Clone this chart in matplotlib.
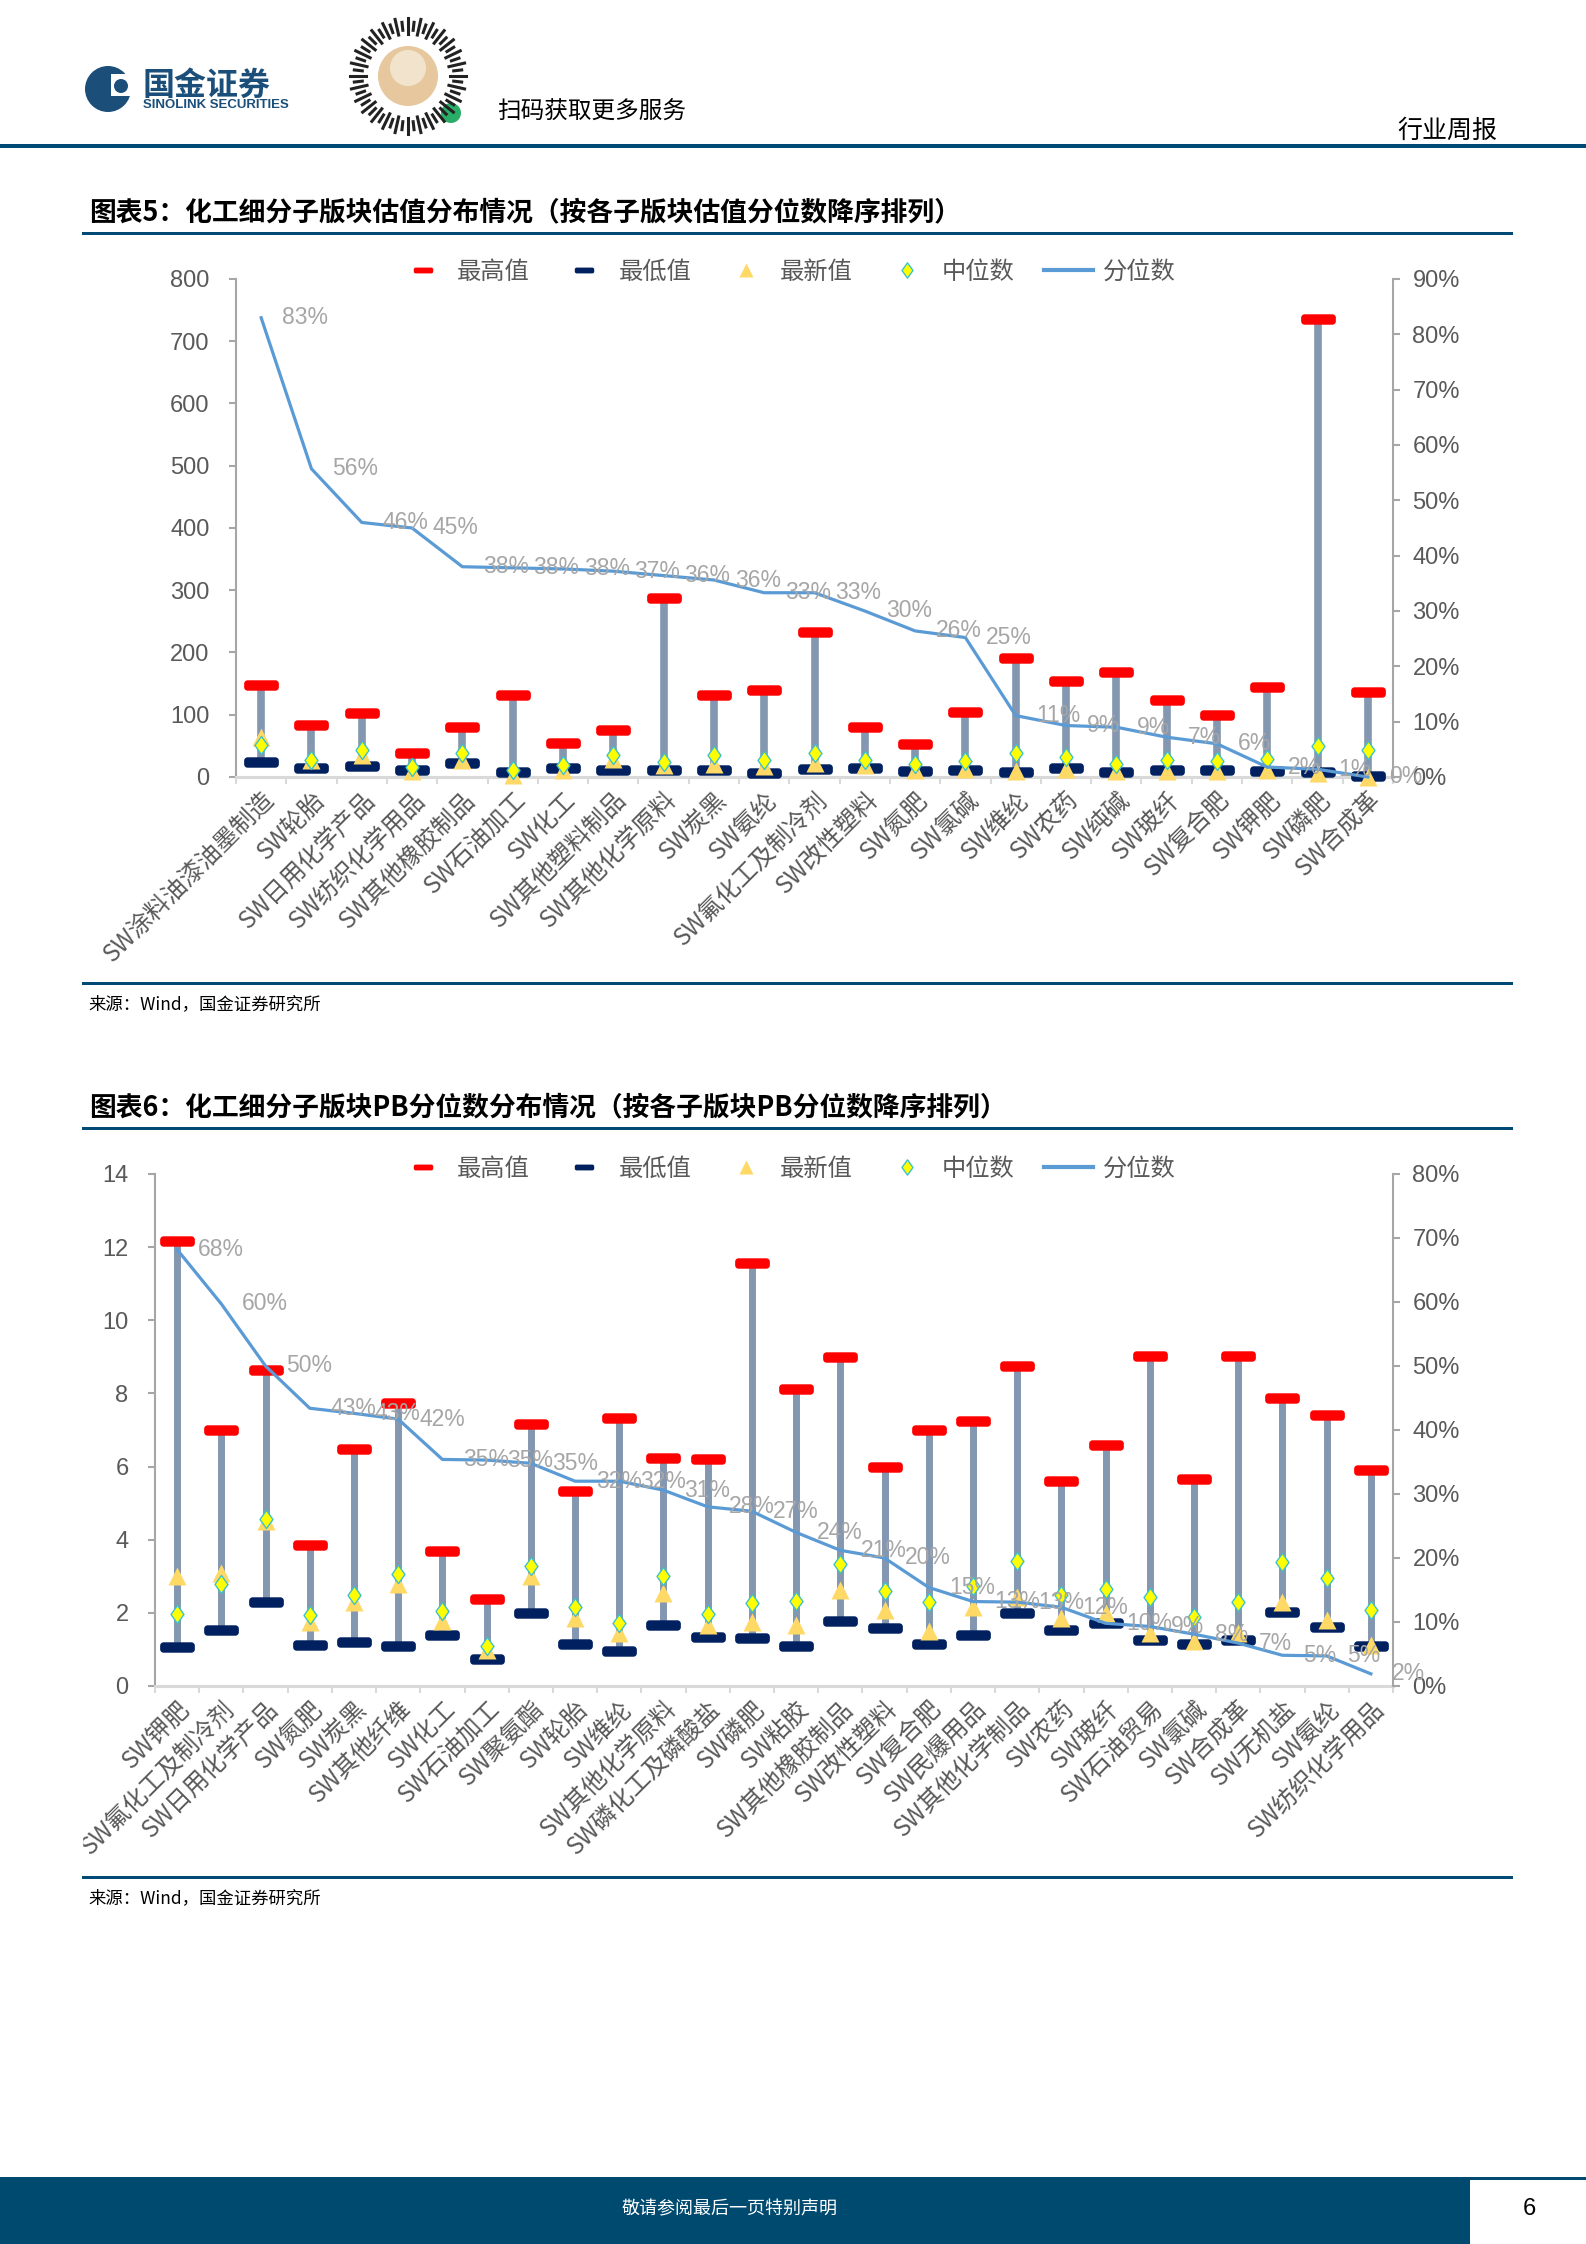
import numpy as np
import matplotlib
matplotlib.use('Agg')
import matplotlib.pyplot as plt
from matplotlib.path import Path
from matplotlib.lines import Line2D
from matplotlib import patches
from matplotlib.ticker import FuncFormatter

plt.rcParams['font.family'] = ['Liberation Sans', 'Noto Sans CJK SC', 'DejaVu Sans']

# ---------------- data ----------------
cats1 = ['SW涂料油漆油墨制造', 'SW轮胎', 'SW日用化学产品', 'SW纺织化学用品', 'SW其他橡胶制品',
         'SW石油加工', 'SW化工', 'SW其他塑料制品', 'SW其他化学原料', 'SW炭黑', 'SW氨纶',
         'SW氟化工及制冷剂', 'SW改性塑料', 'SW氮肥', 'SW氯碱', 'SW维纶', 'SW农药', 'SW纯碱',
         'SW玻纤', 'SW复合肥', 'SW钾肥', 'SW磷肥', 'SW合成革']
max1 = [147, 84, 103, 38, 80, 131, 54, 75, 287, 131, 140, 233, 80, 53, 104, 191, 155, 169, 124, 99, 145, 735, 137]
min1 = [24, 15, 18, 11, 22, 8, 14, 11, 11, 11, 6, 13, 14, 10, 12, 8, 14, 8, 12, 11, 10, 8, 1]
latest1 = [64, 27, 35, 9, 28, 4, 12, 29, 20, 21, 17, 22, 19, 11, 13, 9, 13, 9, 9, 9, 11, 6, 0]
median1 = [51, 27, 44, 16, 39, 12, 19, 35, 24, 36, 27, 39, 28, 21, 25, 39, 32, 21, 28, 25, 29, 49, 43]
pct1 = [0.83, 0.557, 0.46, 0.45, 0.38, 0.378, 0.376, 0.372, 0.364, 0.356, 0.333, 0.333, 0.30,
        0.264, 0.252, 0.111, 0.093, 0.09, 0.072, 0.06, 0.018, 0.014, 0.0]

cats2 = ['SW钾肥', 'SW氟化工及制冷剂', 'SW日用化学产品', 'SW氮肥', 'SW炭黑', 'SW其他纤维', 'SW化工',
         'SW石油加工', 'SW聚氨酯', 'SW轮胎', 'SW维纶', 'SW其他化学原料', 'SW磷化工及磷酸盐', 'SW磷肥',
         'SW粘胶', 'SW其他橡胶制品', 'SW改性塑料', 'SW复合肥', 'SW民爆用品', 'SW其他化学制品', 'SW农药',
         'SW玻纤', 'SW石油贸易', 'SW氯碱', 'SW合成革', 'SW无机盐', 'SW氨纶', 'SW纺织化学用品']
max2 = [12.17, 7.0, 8.64, 3.85, 6.49, 7.74, 3.68, 2.37, 7.17, 5.32, 7.32, 6.23, 6.2, 11.56,
        8.13, 9.0, 5.98, 7.0, 7.24, 8.75, 5.61, 6.59, 9.02, 5.66, 9.02, 7.87, 7.41, 5.90]
min2 = [1.07, 1.53, 2.31, 1.12, 1.19, 1.09, 1.40, 0.73, 2.0, 1.15, 0.95, 1.68, 1.34, 1.30,
        1.09, 1.79, 1.58, 1.15, 1.40, 2.0, 1.54, 1.71, 1.25, 1.14, 1.27, 2.02, 1.61, 1.09]
latest2 = [3.0, 3.1, 4.5, 1.76, 2.29, 2.78, 1.79, 0.98, 3.02, 1.85, 1.46, 2.54, 1.66, 1.76,
           1.66, 2.63, 2.08, 1.51, 2.15, 2.44, 1.85, 2.0, 1.46, 1.22, 1.46, 2.29, 1.80, 1.12]
median2 = [1.97, 2.78, 4.58, 1.93, 2.49, 3.05, 2.05, 1.10, 3.27, 2.15, 1.73, 3.0, 1.97, 2.26,
           2.32, 3.34, 2.6, 2.31, 2.73, 3.41, 2.49, 2.66, 2.42, 1.90, 2.31, 3.40, 2.95, 2.07]
pct2 = [0.682, 0.597, 0.50, 0.434, 0.426, 0.417, 0.354, 0.353, 0.348, 0.32, 0.32, 0.306, 0.28,
        0.273, 0.24, 0.212, 0.20, 0.154, 0.132, 0.131, 0.123, 0.098, 0.093, 0.081, 0.067,
        0.048, 0.047, 0.019]

legend_labels = ['最高值', '最低值', '最新值', '中位数', '分位数']
title1 = '图表5：化工细分子版块估值分布情况（按各子版块估值分位数降序排列）'
title2 = '图表6：化工细分子版块PB分位数分布情况（按各子版块PB分位数降序排列）'
source = '来源：Wind，国金证券研究所'

# ---------------- style ----------------
W, H = 1586, 2244
RED = '#FF0000'; NAVY = '#002060'; TRI = '#FFD966'; DIA = '#FFFF00'; DIA_E = '#3FC1C9'
LINE = '#5B9BD5'; STEM = '#8497B0'; DARK = '#004A75'; GRAY_T = '#595959'; LBL = '#A6A6A6'
NARROW = ['Liberation Sans Narrow', 'Liberation Sans', 'DejaVu Sans']
CJK = ['Noto Sans CJK SC', 'DejaVu Sans']


def fx(x):
    return x / W


def fy(y):
    return 1 - y / H


def cap_path(w=1.0, h=0.3, r=0.1, n=8):
    pts = []
    corners = [(w / 2 - r, h / 2 - r, 0), (-w / 2 + r, h / 2 - r, 90),
               (-w / 2 + r, -h / 2 + r, 180), (w / 2 - r, -h / 2 + r, 270)]
    for cx, cy, a0 in corners:
        for t in np.linspace(a0, a0 + 90, n):
            pts.append((cx + r * np.cos(np.radians(t)), cy + r * np.sin(np.radians(t))))
    pts.append(pts[0])
    codes = [Path.MOVETO] + [Path.LINETO] * (len(pts) - 2) + [Path.CLOSEPOLY]
    return Path(pts, codes)


CAP = cap_path()
DIAM = Path([(0, 1), (0.72, 0), (0, -1), (-0.72, 0), (0, 1)],
            [Path.MOVETO, Path.LINETO, Path.LINETO, Path.LINETO, Path.CLOSEPOLY])

fig = plt.figure(figsize=(W / 100, H / 100), dpi=100)
fig.patch.set_facecolor('white')


def draw_chart(left, right, top, bottom, cats, vmax, vmin, vlast, vmed, pct,
               ylim, ystep, plim, pstep, stem_w, legend_y):
    ax = fig.add_axes([fx(left), fy(bottom), fx(right) - fx(left), fy(top) - fy(bottom)])
    ax.set_facecolor('none')
    n = len(cats)
    x = np.arange(n)
    ax.vlines(x, vmin, vmax, color=STEM, lw=stem_w, zorder=2)
    ax.plot(x, vmax, ls='none', marker=CAP, ms=25, mfc=RED, mec='none', zorder=3, clip_on=False)
    ax.plot(x, vmin, ls='none', marker=CAP, ms=25, mfc=NAVY, mec='none', zorder=3, clip_on=False)
    ax.plot(x, vlast, ls='none', marker='^', ms=13, mfc=TRI, mec='none', zorder=4, clip_on=False)
    ax.plot(x, vmed, ls='none', marker=DIAM, ms=13, mfc=DIA, mec=DIA_E, mew=1.0, zorder=5, clip_on=False)
    ax.set_xlim(-0.5, n - 0.5)
    ax.set_ylim(0, ylim)
    ax.set_yticks(np.arange(0, ylim + ystep / 2, ystep))
    ax.yaxis.set_major_formatter(FuncFormatter(lambda v, p: f'{v:.0f}'))
    for s in ['top', 'right']:
        ax.spines[s].set_visible(False)
    ax.spines['left'].set_color('#A6A6A6')
    ax.spines['left'].set_linewidth(1.5)
    ax.spines['bottom'].set_color('#D9D9D9')
    ax.spines['bottom'].set_linewidth(2.2)
    ax.tick_params(axis='y', direction='out', length=5, width=1.5, color='#A6A6A6',
                   labelcolor=GRAY_T, labelsize=17, pad=14)
    ax.set_xticks(x)
    ax.set_xticklabels(cats, rotation=45, ha='right', va='top', rotation_mode='anchor',
                       fontsize=17.5, color=GRAY_T, family=CJK)
    ax.tick_params(axis='x', which='major', length=0, pad=7)
    ax.set_xticks(np.arange(-0.5, n, 1.0), minor=True)
    ax.tick_params(axis='x', which='minor', direction='out', length=5, width=1.5, color='#D9D9D9')

    ax2 = ax.twinx()
    ax2.set_facecolor('none')
    ax2.plot(x, pct, color=LINE, lw=2.3, zorder=6, clip_on=False)
    for xi, p in zip(x, pct):
        ax2.annotate(f'{p * 100:.0f}%', (xi, p), xytext=(15, 0), textcoords='offset points',
                     ha='left', va='center', fontsize=16.5, color=LBL, family=NARROW, zorder=7)
    ax2.set_ylim(0, plim)
    ax2.set_yticks(np.arange(0, plim + pstep / 2, pstep))
    ax2.yaxis.set_major_formatter(FuncFormatter(lambda v, p: f'{v * 100:.0f}%'))
    for s in ['top', 'left', 'bottom']:
        ax2.spines[s].set_visible(False)
    ax2.spines['right'].set_color('#A6A6A6')
    ax2.spines['right'].set_linewidth(1.5)
    ax2.tick_params(axis='y', direction='out', length=5, width=1.5, color='#A6A6A6',
                    labelcolor=GRAY_T, labelsize=17, pad=9)

    handles = [
        Line2D([], [], ls='none', marker=CAP, ms=14, mfc=RED, mec='none'),
        Line2D([], [], ls='none', marker=CAP, ms=14, mfc=NAVY, mec='none'),
        Line2D([], [], ls='none', marker='^', ms=10, mfc=TRI, mec='none'),
        Line2D([], [], ls='none', marker=DIAM, ms=11, mfc=DIA, mec=DIA_E, mew=1.0),
        Line2D([], [], color=LINE, lw=3),
    ]
    fig.legend(handles, legend_labels, loc='center', bbox_to_anchor=(fx(787), fy(legend_y)),
               ncol=5, frameon=False, handlelength=2.0, handletextpad=0.4,
               columnspacing=1.25, labelcolor=GRAY_T, prop={'family': CJK, 'size': 17.5})
    return ax, ax2


draw_chart(236, 1393, 279, 777, cats1, max1, min1, latest1, median1, pct1,
           800, 100, 0.9, 0.1, 5.5, 272)
draw_chart(155, 1393, 1174, 1686, cats2, max2, min2, latest2, median2, pct2,
           14, 2, 0.8, 0.1, 5.0, 1169)

# ---------------- page decorations ----------------
bg = fig.add_axes([0, 0, 1, 1], zorder=10)
bg.set_xlim(0, W)
bg.set_ylim(H, 0)
bg.axis('off')
bg.patch.set_visible(False)

# white mask for the label clipped at the left edge of chart 2
bg.add_patch(patches.Rectangle((0, 1690), 82, 180, color='white', zorder=1))

# header
bg.add_patch(patches.Rectangle((0, 144), W, 3.5, color=DARK, lw=0))
bg.add_patch(patches.Circle((108, 89), 23, color='#1B4F7A', lw=0))
bg.add_patch(patches.Rectangle((111, 74), 22, 22, color='white', lw=0))
bg.add_patch(patches.Circle((121, 86), 7, color='#1B4F7A', lw=0))
bg.text(143, 86, '国金证券', fontsize=23, fontweight='bold', color='#1B4F7A', va='center',
        ha='left', family=CJK)
bg.text(143, 105, 'SINOLINK SECURITIES', fontsize=9.5, fontweight='bold', color='#1B4F7A',
        va='center', ha='left', family=['Liberation Sans'])
# QR-like badge
for k, a in enumerate(np.linspace(0, 360, 56, endpoint=False)):
    r0, r1 = (42, 58) if k % 2 == 0 else (46, 54)
    ca, sa = np.cos(np.radians(a)), np.sin(np.radians(a))
    bg.plot([408 + r0 * ca, 408 + r1 * ca], [76 + r0 * sa, 76 + r1 * sa], color='#222222', lw=2.2)
bg.add_patch(patches.Circle((408, 76), 30, color='#E6C79E', lw=0))
bg.add_patch(patches.Circle((408, 68), 18, color='#F2E3CC', lw=0))
bg.add_patch(patches.Circle((451, 113), 10, color='#2AAE67', lw=0))
bg.text(497, 112, '扫码获取更多服务', fontsize=17, color='black', va='center', ha='left', family=CJK)
bg.text(1397, 131, '行业周报', fontsize=18, color='black', va='center', ha='left', family=CJK)

# chart titles and rules
bg.text(89, 212, title1, fontsize=19.3, fontweight='bold', style='italic', va='center', ha='left',
        family=CJK, color='black')
bg.add_patch(patches.Rectangle((82, 231.5), 1431, 3, color=DARK, lw=0))
bg.add_patch(patches.Rectangle((82, 981.5), 1431, 3, color=DARK, lw=0))
bg.text(88, 1004, source, fontsize=12.5, va='center', ha='left', family=CJK, color='black')

bg.text(89, 1107, title2, fontsize=19.3, fontweight='bold', style='italic', va='center', ha='left',
        family=CJK, color='black')
bg.add_patch(patches.Rectangle((82, 1126.5), 1431, 3, color=DARK, lw=0))
bg.add_patch(patches.Rectangle((82, 1876), 1431, 3, color=DARK, lw=0))
bg.text(88, 1898, source, fontsize=12.5, va='center', ha='left', family=CJK, color='black')

# footer
bg.add_patch(patches.Rectangle((0, 2177), 1470, 67, color='#004A70', lw=0))
bg.add_patch(patches.Rectangle((1470, 2177), W - 1470, 3, color='#004A70', lw=0))
bg.text(730, 2209, '敬请参阅最后一页特别声明', fontsize=13, color='white', va='center', ha='center',
        family=CJK)
bg.text(1529, 2209, '6', fontsize=17, color='black', va='center', ha='center')

fig.savefig('out.png', dpi=100, facecolor='white')
